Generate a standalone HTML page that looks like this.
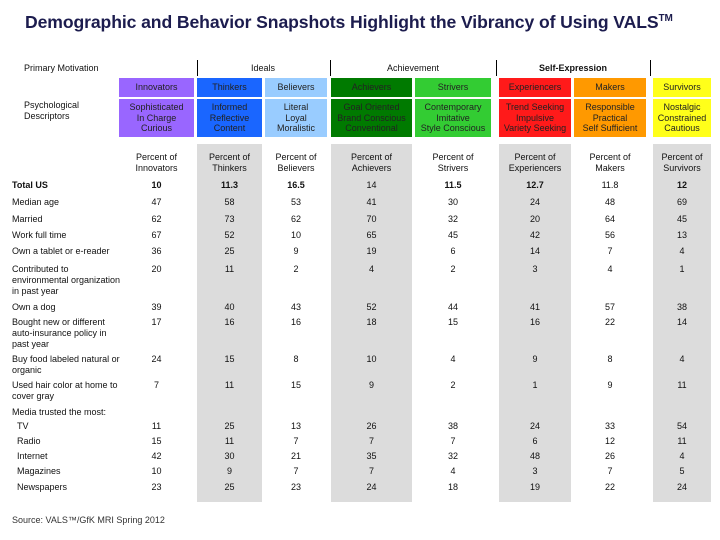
<!DOCTYPE html>
<html><head><meta charset="utf-8"><style>
body{margin:0;width:720px;height:540px;background:#fff;position:relative;overflow:hidden;font-family:"Liberation Sans",sans-serif;color:#111}
.a{position:absolute}
.t{font-size:9px;line-height:10px}
.c{text-align:center;transform:translateX(-50%);white-space:nowrap}
.box{position:absolute;font-size:9px;line-height:10.5px;text-align:center;display:flex;align-items:center;justify-content:center}
.g{position:absolute;background:#dcdcdc;top:144px;height:358px}
</style></head><body>
<div class="a" style="left:25px;top:12px;font-size:17.6px;font-weight:bold;color:#1c1c4e;letter-spacing:-0.1px">Demographic and Behavior Snapshots Highlight the Vibrancy of Using VALS<sup style="font-size:10px">TM</sup></div>
<div class="a t" style="left:24px;top:63px">Primary Motivation</div>
<div class="a t" style="left:24px;top:100px;line-height:11px">Psychological<br>Descriptors</div>
<div class="a" style="left:197px;top:60px;width:1px;height:16px;background:#000"></div>
<div class="a" style="left:330px;top:60px;width:1px;height:16px;background:#000"></div>
<div class="a" style="left:496px;top:60px;width:1px;height:16px;background:#000"></div>
<div class="a" style="left:650px;top:60px;width:1px;height:16px;background:#000"></div>
<div class="a t c" style="left:263px;top:63px">Ideals</div>
<div class="a t c" style="left:413px;top:63px">Achievement</div>
<div class="a t c" style="left:573px;top:63px;font-weight:bold">Self-Expression</div>
<div id="gray"></div>
<div id="heads"></div>
<div id="rows"></div>
<div class="a t" style="left:12px;top:515px;color:#333">Source: VALS™/GfK MRI Spring 2012</div>
<script>
const segs=["Innovators","Thinkers","Believers","Achievers","Strivers","Experiencers","Makers","Survivors"];
const descs=["Sophisticated<br>In Charge<br>Curious","Informed<br>Reflective<br>Content","Literal<br>Loyal<br>Moralistic","Goal Oriented<br>Brand Conscious<br>Conventional","Contemporary<br>Imitative<br>Style Conscious","Trend Seeking<br>Impulsive<br>Variety Seeking","Responsible<br>Practical<br>Self Sufficient","Nostalgic<br>Constrained<br>Cautious"];
const rowLabels=["Total US","Median age","Married","Work full time","Own a tablet or e-reader","Contributed to<br>environmental organization<br>in past year","Own a dog","Bought new or different<br>auto-insurance policy in<br>past year","Buy food labeled natural or<br>organic","Used hair color at home to<br>cover gray","Media trusted the most:","TV","Radio","Internet","Magazines","Newspapers"];
const values=[
[10,11.3,16.5,14,11.5,12.7,11.8,12],
[47,58,53,41,30,24,48,69],
[62,73,62,70,32,20,64,45],
[67,52,10,65,45,42,56,13],
[36,25,9,19,6,14,7,4],
[20,11,2,4,2,3,4,1],
[39,40,43,52,44,41,57,38],
[17,16,16,18,15,16,22,14],
[24,15,8,10,4,9,8,4],
[7,11,15,9,2,1,9,11],
null,
[11,25,13,26,38,24,33,54],
[15,11,7,7,7,6,12,11],
[42,30,21,35,32,48,26,4],
[10,9,7,7,4,3,7,5],
[23,25,23,24,18,19,22,24]];
const colX=[[119,194],[197,262],[265,327],[331,412],[415,491],[499,571],[574,646],[653,711]];
const colors=["#9966ff","#1a66ff","#99ccff","#007a00","#33cc33","#ff1a1a","#ff9900","#ffff1a"];
const rowY=[180,197,214,230,246,264,302,317,354,380,407,421,436,451,466,482];
const gray=document.getElementById('gray'),heads=document.getElementById('heads'),rows=document.getElementById('rows');
[1,3,5,7].forEach(i=>{const d=document.createElement('div');d.className='g';


d.style.left=colX[i][0]+'px';d.style.width=(colX[i][1]-colX[i][0])+'px';gray.appendChild(d);});
segs.forEach((s,i)=>{const [x0,x1]=colX[i];const w=x1-x0;
const b=document.createElement('div');b.className='box';


b.style.cssText+=`left:${x0}px;top:78px;width:${w}px;height:19px;background:${colors[i]};color:#222`;b.textContent=s;heads.appendChild(b);
const d=document.createElement('div');d.className='box';


d.style.cssText+=`left:${x0}px;top:99px;width:${w}px;height:38px;background:${colors[i]};color:#222`;d.innerHTML=descs[i];heads.appendChild(d);
const p=document.createElement('div');p.className='a t c';


p.style.left=(x0+w/2)+'px';p.style.top='152px';p.style.lineHeight='10.5px';p.innerHTML='Percent of<br>'+s;heads.appendChild(p);});
rowLabels.forEach((l,r)=>{const e=document.createElement('div');e.className='a t';


e.style.left=(r>=11?17:12)+'px';e.style.top=rowY[r]+'px';e.style.lineHeight='11px';if(r==0)e.style.fontWeight='bold';e.innerHTML=l;rows.appendChild(e);
if(values[r])values[r].forEach((v,i)=>{const c=document.createElement('div');c.className='a t c';


c.style.left=((colX[i][0]+colX[i][1])/2)+'px';c.style.top=rowY[r]+'px';if(r==0&&i!=3&&i!=6)c.style.fontWeight='bold';c.textContent=v;rows.appendChild(c);});});
</script>
</body></html>
